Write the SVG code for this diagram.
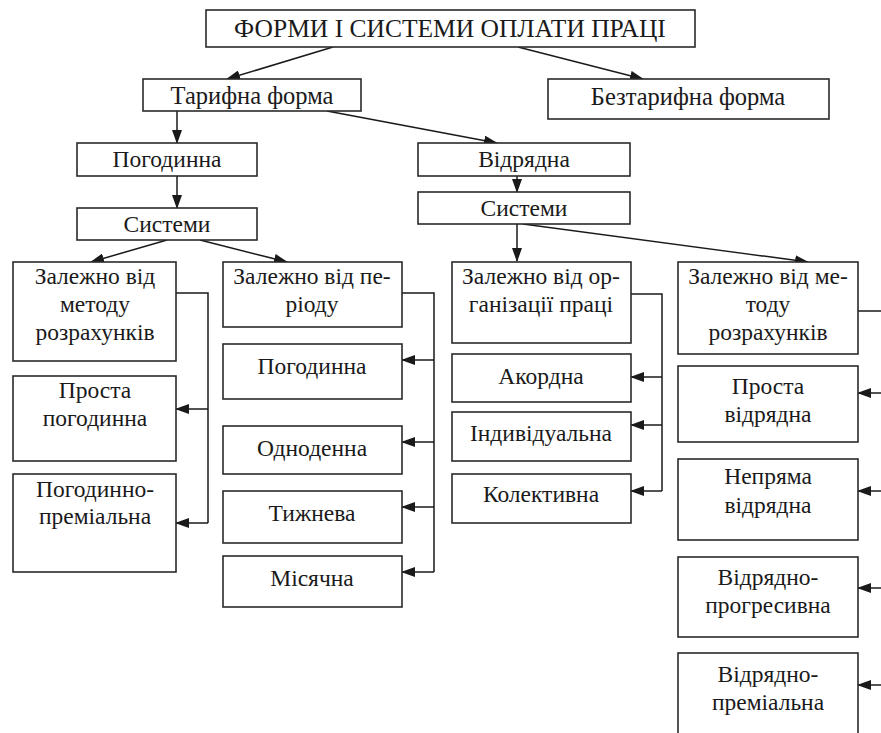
<svg xmlns="http://www.w3.org/2000/svg" width="881" height="733" viewBox="0 0 881 733" font-family="'Liberation Serif', 'DejaVu Serif', serif">
  <defs>
    <marker id="arr" markerWidth="14" markerHeight="10" refX="13" refY="5" orient="auto" markerUnits="userSpaceOnUse">
      <path d="M0,0 L14,5 L0,10 Z" fill="#1a1a1a"/>
    </marker>
    <style>
      .box { fill: #fff; stroke: #2a2a2a; stroke-width: 1.6; }
      .t { font-family: 'Liberation Serif', 'DejaVu Serif', serif; font-size: 23.5px; fill: #1a1a1a; text-anchor: middle; }
      .mid { font-size: 24.5px; }
      .big { font-size: 25.5px; }
      .ln { fill: none; stroke: #1a1a1a; stroke-width: 1.5; }
      .ar { fill: none; stroke: #1a1a1a; stroke-width: 1.5; marker-end: url(#arr); }
    </style>
  </defs>
  <rect width="881" height="733" fill="#fff"/>

  <!-- connectors -->
  <g id="connectors">
    <line class="ar" x1="333" y1="47" x2="227" y2="79"/>
    <line class="ar" x1="518" y1="47" x2="643" y2="79"/>
    <line class="ar" x1="177" y1="111" x2="177" y2="143"/>
    <line class="ar" x1="327" y1="111" x2="497" y2="143"/>
    <line class="ar" x1="177" y1="176" x2="177" y2="208"/>
    <line class="ar" x1="517" y1="176" x2="517" y2="192"/>
    <line class="ar" x1="167" y1="240" x2="91" y2="262"/>
    <line class="ar" x1="200" y1="240" x2="287" y2="262"/>
    <line class="ar" x1="517" y1="224" x2="517" y2="261"/>
    <line class="ar" x1="523" y1="224" x2="808" y2="262"/>

    <!-- left column bracket -->
    <polyline class="ln" points="176,293 208,293 208,523"/>
    <line class="ar" x1="208" y1="409" x2="176" y2="409"/>
    <line class="ar" x1="208" y1="523" x2="176" y2="523"/>

    <!-- middle column bracket -->
    <polyline class="ln" points="402,293 434,293 434,572"/>
    <line class="ar" x1="434" y1="360" x2="402" y2="360"/>
    <line class="ar" x1="434" y1="442" x2="402" y2="442"/>
    <line class="ar" x1="434" y1="507" x2="402" y2="507"/>
    <line class="ar" x1="434" y1="572" x2="402" y2="572"/>

    <!-- organisation column bracket -->
    <polyline class="ln" points="631,294 662,294 662,491"/>
    <line class="ar" x1="662" y1="377" x2="631" y2="377"/>
    <line class="ar" x1="662" y1="425" x2="631" y2="425"/>
    <line class="ar" x1="662" y1="491" x2="631" y2="491"/>

    <!-- right column bracket -->
    <polyline class="ln" points="858,311 886,311 886,733"/>
    <line class="ar" x1="886" y1="393" x2="858" y2="393"/>
    <line class="ar" x1="886" y1="491" x2="858" y2="491"/>
    <line class="ar" x1="886" y1="588" x2="858" y2="588"/>
    <line class="ar" x1="886" y1="685" x2="858" y2="685"/>
  </g>

  <g id="root">
    <rect class="box" x="206" y="10" width="489" height="37"/>
    <text class="t big" x="450" y="37">ФОРМИ І СИСТЕМИ ОПЛАТИ ПРАЦІ</text>
  </g>
  <g id="tariff">
    <rect class="box" x="143" y="79" width="218" height="32"/>
    <text class="t mid" x="252" y="104">Тарифна форма</text>
  </g>
  <g id="nontariff">
    <rect class="box" x="548" y="79" width="281" height="40"/>
    <text class="t mid" x="688" y="105">Безтарифна форма</text>
  </g>
  <g id="time">
    <rect class="box" x="77" y="143" width="180" height="33"/>
    <text class="t" x="167" y="167">Погодинна</text>
  </g>
  <g id="time-systems">
    <rect class="box" x="77" y="208" width="180" height="32"/>
    <text class="t" x="167" y="232">Системи</text>
  </g>
  <g id="piece">
    <rect class="box" x="418" y="143" width="212" height="33"/>
    <text class="t" x="524" y="167">Відрядна</text>
  </g>
  <g id="piece-systems">
    <rect class="box" x="418" y="192" width="212" height="32"/>
    <text class="t" x="524" y="216">Системи</text>
  </g>

  <!-- time-based column -->
  <g id="time-by-method">
    <rect class="box" x="13" y="262" width="163" height="99"/>
    <text class="t" x="95" y="284">Залежно від</text>
    <text class="t" x="95" y="312">методу</text>
    <text class="t" x="95" y="340">розрахунків</text>
  </g>
  <g id="time-simple">
    <rect class="box" x="13" y="376" width="163" height="85"/>
    <text class="t" x="95" y="398">Проста</text>
    <text class="t" x="95" y="426">погодинна</text>
  </g>
  <g id="time-bonus">
    <rect class="box" x="13" y="474" width="163" height="98"/>
    <text class="t" x="95" y="497">Погодинно-</text>
    <text class="t" x="95" y="524">преміальна</text>
  </g>

  <!-- period column -->
  <g id="by-period">
    <rect class="box" x="223" y="262" width="179" height="65"/>
    <text class="t" x="312" y="284">Залежно від пе-</text>
    <text class="t" x="312" y="312">ріоду</text>
  </g>
  <g id="hourly">
    <rect class="box" x="223" y="344" width="179" height="55"/>
    <text class="t" x="312" y="374">Погодинна</text>
  </g>
  <g id="daily">
    <rect class="box" x="223" y="426" width="179" height="48"/>
    <text class="t" x="312" y="456">Одноденна</text>
  </g>
  <g id="weekly">
    <rect class="box" x="223" y="491" width="179" height="52"/>
    <text class="t" x="312" y="521">Тижнева</text>
  </g>
  <g id="monthly">
    <rect class="box" x="223" y="556" width="179" height="51"/>
    <text class="t" x="312" y="586">Місячна</text>
  </g>

  <!-- organisation column -->
  <g id="by-organisation">
    <rect class="box" x="452" y="262" width="179" height="81"/>
    <text class="t" x="541" y="284">Залежно від ор-</text>
    <text class="t" x="541" y="312">ганізації праці</text>
  </g>
  <g id="chord">
    <rect class="box" x="452" y="354" width="179" height="48"/>
    <text class="t" x="541" y="384">Акордна</text>
  </g>
  <g id="individual">
    <rect class="box" x="452" y="412" width="179" height="49"/>
    <text class="t" x="541" y="441">Індивідуальна</text>
  </g>
  <g id="collective">
    <rect class="box" x="452" y="474" width="179" height="49"/>
    <text class="t" x="541" y="502">Колективна</text>
  </g>

  <!-- piece-rate method column -->
  <g id="piece-by-method">
    <rect class="box" x="678" y="262" width="180" height="92"/>
    <text class="t" x="768" y="284">Залежно від ме-</text>
    <text class="t" x="768" y="312">тоду</text>
    <text class="t" x="768" y="340">розрахунків</text>
  </g>
  <g id="piece-simple">
    <rect class="box" x="678" y="366" width="180" height="76"/>
    <text class="t" x="768" y="394">Проста</text>
    <text class="t" x="768" y="422">відрядна</text>
  </g>
  <g id="piece-indirect">
    <rect class="box" x="678" y="459" width="180" height="81"/>
    <text class="t" x="768" y="484">Непряма</text>
    <text class="t" x="768" y="513">відрядна</text>
  </g>
  <g id="piece-progressive">
    <rect class="box" x="678" y="557" width="180" height="80"/>
    <text class="t" x="768" y="585">Відрядно-</text>
    <text class="t" x="768" y="613">прогресивна</text>
  </g>
  <g id="piece-bonus">
    <rect class="box" x="678" y="653" width="180" height="100"/>
    <text class="t" x="768" y="682">Відрядно-</text>
    <text class="t" x="768" y="710">преміальна</text>
  </g>
</svg>
